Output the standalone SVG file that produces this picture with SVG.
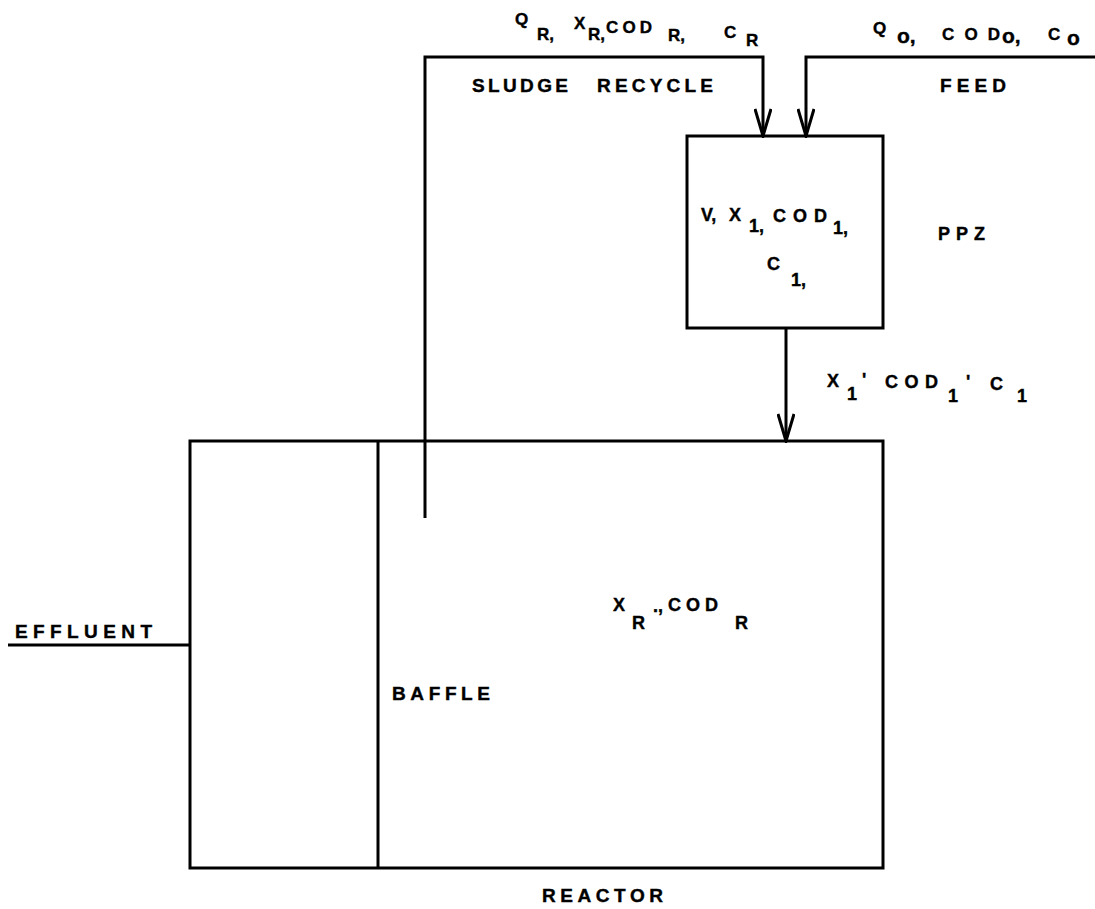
<svg xmlns="http://www.w3.org/2000/svg" width="1095" height="909" viewBox="0 0 1095 909">
<style>
.ln{stroke:#000;stroke-width:3;fill:none}
.t{font-family:"Liberation Sans",Arial,Helvetica,sans-serif;font-weight:bold;font-size:18px;fill:#000;stroke:#000;stroke-width:0.4}
.m{font-size:19px}
.s{font-size:17px}
.o{font-size:21px}
</style>
<defs>
<marker id="ah" markerWidth="30" markerHeight="18" refX="28" refY="9" orient="auto" markerUnits="userSpaceOnUse" viewBox="0 0 30 18">
<path d="M1,1 L28,9 L1,17" stroke="#000" stroke-width="3" fill="none"/>
</marker>
</defs>
<rect width="1095" height="909" fill="#fff"/>
<g id="ppz">
<rect x="687" y="136" width="196" height="192" class="ln"/>
<text class="t" x="701" y="221">V,</text>
<text class="t" x="729" y="221">X</text>
<text class="t" x="749" y="232">1,</text>
<text class="t" x="773" y="222" textLength="54" lengthAdjust="spacing">COD</text>
<text class="t" x="833" y="234">1,</text>
<text class="t" x="767" y="270">C</text>
<text class="t" x="791" y="286">1,</text>
<text class="t" x="938" y="240" textLength="47" lengthAdjust="spacing">PPZ</text>
</g>
<g id="reactor">
<rect x="190" y="441" width="693" height="427" class="ln"/>
<line x1="378" y1="441" x2="378" y2="868" class="ln"/>
<text class="t" x="613" y="611">X</text>
<text class="t" x="632" y="629">R</text>
<text class="t" x="653" y="612">.,</text>
<text class="t" x="668" y="611" textLength="50" lengthAdjust="spacing">COD</text>
<text class="t" x="735" y="629">R</text>
<text class="t m" x="392" y="700" textLength="98" lengthAdjust="spacing">BAFFLE</text>
<text class="t m" x="542" y="902" textLength="121" lengthAdjust="spacing">REACTOR</text>
</g>
<g id="connectors">
<polyline points="425,518 425,57 763,57 763,136" class="ln" marker-end="url(#ah)"/>
<polyline points="1095,57 806,57 806,136" class="ln" marker-end="url(#ah)"/>
<line x1="786" y1="328" x2="786" y2="441" class="ln" marker-end="url(#ah)"/>
<line x1="8" y1="645" x2="190" y2="645" class="ln"/>
</g>
<g id="labels">
<text class="t s" x="515" y="25">Q</text>
<text class="t s" x="537" y="40">R,</text>
<text class="t s" x="574" y="29">X</text>
<text class="t s" x="588" y="40">R,</text>
<text class="t s" x="606" y="33" textLength="46" lengthAdjust="spacing">COD</text>
<text class="t s" x="668" y="41">R,</text>
<text class="t s" x="724" y="38">C</text>
<text class="t s" x="746" y="46">R</text>
<text class="t s" x="873" y="34">Q</text>
<text class="t o" x="897" y="43">o,</text>
<text class="t s" x="942" y="40" textLength="58" lengthAdjust="spacing">COD</text>
<text class="t o" x="1002" y="43">o,</text>
<text class="t s" x="1048" y="40">C</text>
<text class="t o" x="1067" y="45">o</text>
<text class="t m" x="472" y="92" textLength="96" lengthAdjust="spacing">SLUDGE</text>
<text class="t m" x="597" y="92" textLength="116" lengthAdjust="spacing">RECYCLE</text>
<text class="t m" x="940" y="92" textLength="66" lengthAdjust="spacing">FEED</text>
<text class="t" x="827" y="387">X</text>
<text class="t" x="847" y="400">1</text>
<text class="t" x="862" y="386">'</text>
<text class="t" x="885" y="388" textLength="53" lengthAdjust="spacing">COD</text>
<text class="t" x="948" y="402">1</text>
<text class="t" x="966" y="388">'</text>
<text class="t" x="990" y="390">C</text>
<text class="t" x="1017" y="402">1</text>
<text class="t m" x="15" y="638" textLength="137" lengthAdjust="spacing">EFFLUENT</text>
</g>
</svg>
